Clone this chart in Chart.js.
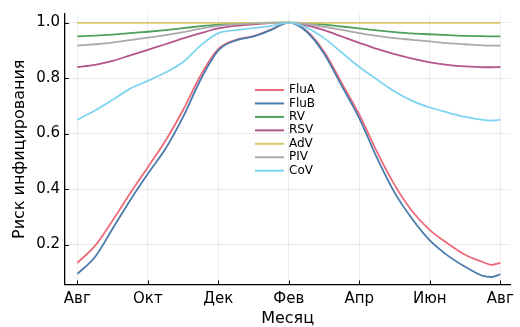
<!DOCTYPE html>
<html lang="ru">
<head>
<meta charset="utf-8">
<title>Риск инфицирования по месяцам</title>
<script src="https://cdn.jsdelivr.net/npm/chart.js@4/dist/chart.umd.min.js"></script>
<style>
  html, body { margin: 0; padding: 0; background: #fff; }
  #wrap { width: 520px; height: 327px; }
</style>
</head>
<body>
<div id="wrap"><canvas id="risk" width="520" height="327"></canvas></div>
<script>
// ===== DATA =====
// months since August (0 = Авг, 12 = next Авг)
const months = [0, 0.5, 1, 1.5, 2, 2.5, 3, 3.5, 4, 4.5, 5, 5.5, 6,
  6.5, 7, 7.5, 8, 8.5, 9, 9.5, 10, 10.5, 11, 11.5, 11.75, 12];

const fluA = [0.134, 0.195, 0.287, 0.385, 0.479, 0.574, 0.685, 0.810, 0.905, 0.938, 0.951, 0.975, 1.0,
  0.971, 0.895, 0.782, 0.668, 0.534, 0.415, 0.320, 0.252, 0.205, 0.163, 0.137, 0.127, 0.134];
const fluB = [0.094, 0.155, 0.257, 0.360, 0.455, 0.545, 0.660, 0.795, 0.900, 0.936, 0.950, 0.974, 1.0,
  0.968, 0.888, 0.772, 0.655, 0.512, 0.387, 0.292, 0.215, 0.161, 0.120, 0.087, 0.083, 0.093];
const rv = [0.950, 0.953, 0.957, 0.962, 0.967, 0.973, 0.980, 0.987, 0.993, 0.997, 0.999, 1.0, 1.0,
  0.998, 0.993, 0.986, 0.979, 0.972, 0.966, 0.961, 0.958, 0.955, 0.952, 0.951, 0.950, 0.950];
const rsv = [0.840, 0.848, 0.862, 0.882, 0.902, 0.922, 0.943, 0.962, 0.979, 0.988, 0.994, 0.998, 1.0,
  0.990, 0.973, 0.950, 0.927, 0.905, 0.886, 0.870, 0.857, 0.848, 0.842, 0.839, 0.839, 0.840];
const adv = [0.999, 0.999, 0.999, 0.999, 0.999, 0.999, 0.999, 0.999, 0.999, 0.999, 0.999, 0.999, 1.0,
  0.999, 0.999, 0.999, 0.999, 0.999, 0.999, 0.999, 0.999, 0.999, 0.999, 0.999, 0.999, 0.999];
const piv = [0.917, 0.922, 0.928, 0.937, 0.946, 0.955, 0.966, 0.978, 0.988, 0.994, 0.997, 0.999, 1.0,
  0.995, 0.985, 0.974, 0.962, 0.952, 0.944, 0.938, 0.932, 0.926, 0.922, 0.918, 0.917, 0.917];
const cov = [0.650, 0.683, 0.722, 0.762, 0.790, 0.820, 0.858, 0.918, 0.962, 0.973, 0.980, 0.988, 1.0,
  0.982, 0.944, 0.892, 0.840, 0.795, 0.752, 0.718, 0.694, 0.676, 0.660, 0.649, 0.647, 0.650];

const seriesNames = ['FluA', 'FluB', 'RV', 'RSV', 'AdV', 'PIV', 'CoV'];
const seriesValues = [fluA, fluB, rv, rsv, adv, piv, cov];

const tickMonths = [0, 2, 4, 6, 8, 10, 12];
const tickLabels = ['Авг', 'Окт', 'Дек', 'Фев', 'Апр', 'Июн', 'Авг'];
const yTicks = [0.2, 0.4, 0.6, 0.8, 1.0];

// ===== STYLE =====
const FONT = 'DejaVu Sans';
const LINE_COLORS = ['#ec6a7a', '#4a7bad', '#4ea05c', '#b5578c', '#d6c969', '#aaaaaa', '#7fd4ef'];
const GRID = 'rgba(0, 0, 0, 0.08)';

// small inward tick marks on both axes
const innerTicks = {
  id: 'innerTicks',
  afterDatasetsDraw(chart) {
    const { ctx, chartArea, scales } = chart;
    ctx.save();
    ctx.strokeStyle = '#000';
    ctx.lineWidth = 1;
    ctx.beginPath();
    scales.x.ticks.forEach((t) => {
      const px = Math.round(scales.x.getPixelForValue(t.value)) + 0.5;
      ctx.moveTo(px, chartArea.bottom);
      ctx.lineTo(px, chartArea.bottom - 4);
    });
    scales.y.ticks.forEach((t) => {
      const py = Math.round(scales.y.getPixelForValue(t.value)) + 0.5;
      ctx.moveTo(chartArea.left, py);
      ctx.lineTo(chartArea.left + 4, py);
    });
    ctx.stroke();
    ctx.restore();
  },
};

// legend block sitting inside the plot
const inlineLegend = {
  id: 'inlineLegend',
  afterDraw(chart) {
    const { ctx } = chart;
    ctx.save();
    ctx.font = `12px "${FONT}"`;
    ctx.textBaseline = 'middle';
    ctx.textAlign = 'left';
    seriesNames.forEach((name, i) => {
      const y = 90 + i * 13.45;
      ctx.strokeStyle = LINE_COLORS[i];
      ctx.lineWidth = 2;
      ctx.beginPath();
      ctx.moveTo(255, y);
      ctx.lineTo(284, y);
      ctx.stroke();
      ctx.fillStyle = '#000';
      ctx.fillText(name, 289, y);
    });
    ctx.restore();
  },
};

const datasets = seriesNames.map((name, i) => ({
  label: name,
  data: months.map((m, j) => ({ x: m, y: seriesValues[i][j] })),
  borderColor: LINE_COLORS[i],
  borderWidth: 1.8,
  pointRadius: 0,
  fill: false,
  cubicInterpolationMode: 'monotone',
  order: -i,
}));

new Chart(document.getElementById('risk'), {
  type: 'line',
  data: { datasets },
  options: {
    responsive: false,
    animation: false,
    events: [],
    layout: { padding: { top: 6, right: 7, left: 0, bottom: 0 } },
    plugins: {
      legend: { display: false },
      tooltip: { enabled: false },
    },
    scales: {
      x: {
        type: 'linear',
        min: -0.35,
        max: 12.28,
        afterBuildTicks: (scale) => { scale.ticks = tickMonths.map((v) => ({ value: v })); },
        afterFit: (scale) => { scale.height = 42.5; },
        ticks: {
          callback: (v) => tickLabels[tickMonths.indexOf(v)],
          color: '#000',
          font: { family: FONT, size: 15 },
          padding: 6,
          maxRotation: 0,
          autoSkip: false,
        },
        grid: { color: GRID, drawTicks: false },
        border: { color: '#000', width: 1.3 },
        title: {
          display: true,
          text: 'Месяц',
          color: '#000',
          font: { family: FONT, size: 16, lineHeight: 1.0 },
          padding: { top: 0, bottom: 0 },
        },
      },
      y: {
        type: 'linear',
        min: 0.056,
        max: 1.031,
        afterBuildTicks: (scale) => { scale.ticks = yTicks.map((v) => ({ value: v })); },
        afterFit: (scale) => { scale.width = 65; },
        ticks: {
          callback: (v) => v.toFixed(1),
          color: '#000',
          font: { family: FONT, size: 15 },
          padding: 5,
        },
        grid: { color: GRID, drawTicks: false },
        border: { color: '#000', width: 1.3 },
        title: {
          display: true,
          text: 'Риск инфицирования',
          color: '#000',
          font: { family: FONT, size: 16 },
          padding: { top: 10, bottom: 0 },
        },
      },
    },
  },
  plugins: [innerTicks, inlineLegend],
});
</script>
</body>
</html>
